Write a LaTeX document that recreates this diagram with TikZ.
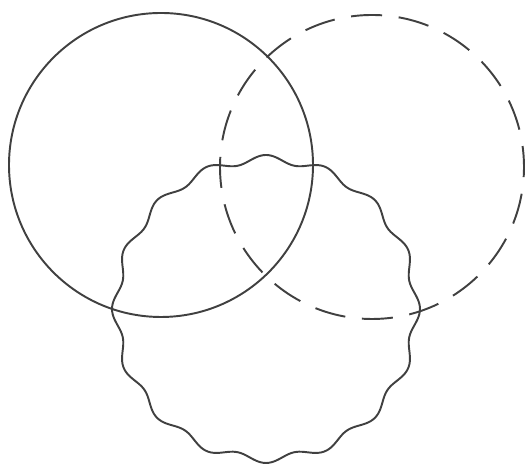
\documentclass[tikz,border=0pt]{standalone}
\begin{document}
\begin{tikzpicture}[line width=1.1pt, draw=black!75]
\useasboundingbox (0,0) rectangle (10.64,9.3);
% centres:
\coordinate (left) at (3.22,6.0);
\coordinate (right) at (7.44,5.96);
\coordinate (bottom) at (5.32,3.12);
% solid and dashed circles:
\draw[black!75] (left) circle (3.04);
\draw[black!75, dash pattern=on 0.62cm off 0.335cm, dash phase=0.2cm] (right) circle (3.04);
% wavy circle:
\draw[black!75, shift={(bottom)}] plot[domain=0:360, samples=361, smooth] (\x+90:{3.0+0.08*cos(16*\x)}) -- cycle;
\end{tikzpicture}
\end{document}
